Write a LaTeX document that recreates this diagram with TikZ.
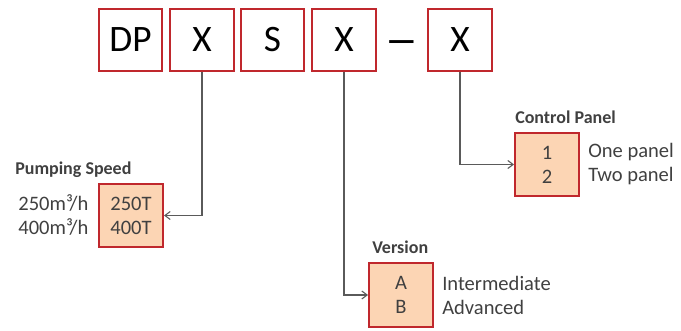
\documentclass[tikz,border=0pt]{standalone}
\usepackage{fontspec}
\setmainfont{Carlito}
\usetikzlibrary{positioning,arrows.meta}
\definecolor{boxred}{RGB}{192,40,45}
\definecolor{peach}{RGB}{252,213,180}
\definecolor{linegray}{RGB}{90,90,90}
\definecolor{txtgray}{RGB}{64,64,64}

\begin{document}
\begin{tikzpicture}[x=0.75pt,y=-0.75pt,
        topbox/.style={draw=boxred,line width=1.5pt,fill=white,minimum width=47.5pt,minimum height=46.5pt,inner sep=0pt,font=\fontsize{28pt}{34pt}\selectfont},
        codebox/.style={draw=boxred,line width=1.5pt,fill=peach,minimum width=48pt,minimum height=47.5pt,inner sep=0pt,align=center,text=txtgray,font=\fontsize{15.4pt}{18pt}\selectfont},
        note/.style={inner sep=0pt,align=left,text=txtgray,font=\fontsize{15.4pt}{18pt}\selectfont},
        title/.style={inner sep=0pt,text=txtgray,font=\fontsize{13.5pt}{16pt}\selectfont\bfseries},
        link/.style={draw=linegray,line width=0.8pt,-{Straight Barb[length=4pt,width=6pt]}}]
        \useasboundingbox (0,0) rectangle (681,331);
        % model code
        \node [topbox] (dp) at (130.5,40) {DP};
        \node [topbox] (x1) at (202,40) {X};
        \node [topbox] (s) at (272.5,40) {S};
        \node [topbox] (x2) at (344,40) {X};
        \node [inner sep=0pt,font=\fontsize{25pt}{28pt}\selectfont\bfseries] (dash) at (401.5,46) {—};
        \node [topbox] (x3) at (460,40) {X};
        % options
        \node [codebox] (pump) at (131,215.5) {250T\\400T};
        \node [codebox] (ver) at (401,295) {A\\B};
        \node [codebox] (ctrl) at (547,164.5) {1\\2};
        \node [title,anchor=base west] (pumptitle) at (15,175) {Pumping Speed};
        \node [title,anchor=base west] (vertitle) at (372,253) {Version};
        \node [title,anchor=base west] (ctrltitle) at (515,124) {Control Panel};
        \node [note,left=7pt of pump] (pumpnote) {250m³/h\\400m³/h};
        \node [note,right=6pt of ver] (vernote) {Intermediate\\Advanced};
        \node [note,right=6pt of ctrl] (ctrlnote) {One panel\\Two panel};
        \draw [link] (x1.south) |- (pump.east);
        \draw [link] (x2.south) |- (ver.west);
        \draw [link] (x3.south) |- (ctrl.west);
    \end{tikzpicture}
\end{document}
